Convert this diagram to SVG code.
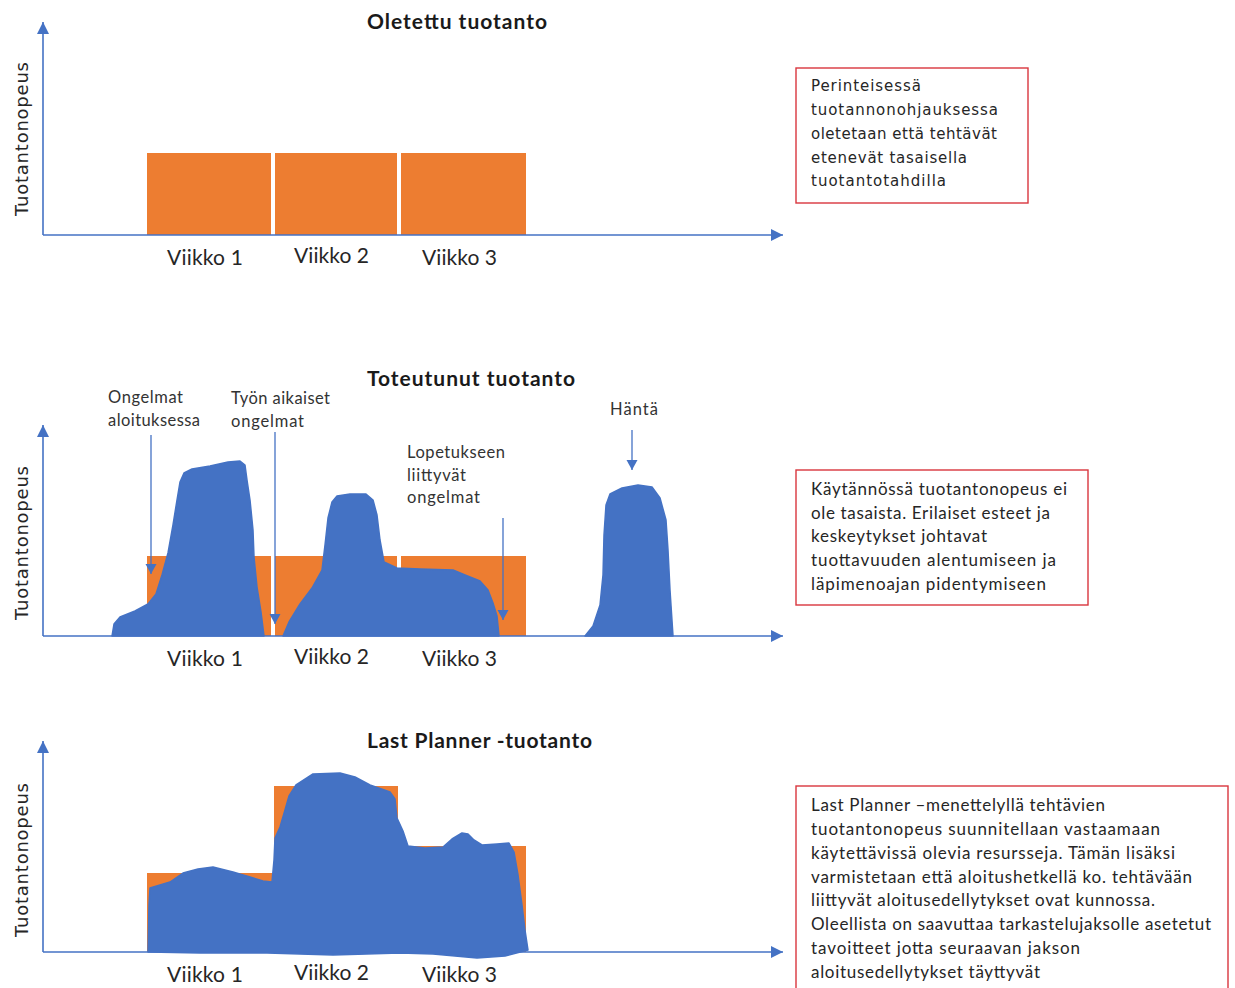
<svg xmlns="http://www.w3.org/2000/svg" width="1235" height="988" viewBox="0 0 1235 988">
  <defs>
    <style>
      .axis { stroke: #4472C4; stroke-width: 1.6; fill: none; }
      .ptr { stroke: #4472C4; stroke-width: 1.3; fill: none; }
      .bar { fill: #ED7D31; }
      .flow { fill: #4472C4; stroke: #4472C4; stroke-width: 1.5; stroke-linejoin: round; }
      .title { font-family: Lato, "Liberation Sans", sans-serif; font-weight: bold; font-size: 21px; fill: #1a1a1a; }
      .week { font-family: Lato, "Liberation Sans", sans-serif; font-size: 21px; fill: #262626; }
      .ylab { font-family: "DejaVu Sans", Verdana, sans-serif; font-size: 18px; fill: #262626; }
      .note { font-family: Lato, "Liberation Sans", sans-serif; font-size: 16.5px; fill: #333333; }
      .box { fill: #ffffff; stroke: #D9363E; stroke-width: 1.4; }
      .boxtxt { font-family: Lato, "Liberation Sans", sans-serif; font-size: 17px; fill: #262626; }
      .boxtxt-v { font-family: "DejaVu Sans", Verdana, sans-serif; font-size: 15px; fill: #262626; }
    </style>
    <marker id="axisHead" markerUnits="userSpaceOnUse" markerWidth="14" markerHeight="12" refX="12" refY="6" orient="auto">
      <path d="M0,0 L12,6 L0,12 Z" fill="#4472C4"/>
    </marker>
    <marker id="ptrHead" markerUnits="userSpaceOnUse" markerWidth="12" markerHeight="12" refX="10" refY="5.5" orient="auto">
      <path d="M0,0 L10,5.5 L0,11 Z" fill="#4472C4"/>
    </marker>
  </defs>

  <rect width="1235" height="988" fill="#ffffff"/>

  <!-- Panel 1: planned production -->
  <g id="panel-planned">
    <text class="title" x="367" y="29" textLength="180">Oletettu tuotanto</text>
    <text class="ylab" transform="translate(28,139) rotate(-90)" text-anchor="middle" textLength="154">Tuotantonopeus</text>
    <rect class="bar" x="147" y="153" width="124" height="82"/>
    <rect class="bar" x="275" y="153" width="122" height="82"/>
    <rect class="bar" x="401" y="153" width="125" height="82"/>
    <text class="week" x="167" y="265" textLength="76">Viikko 1</text>
    <text class="week" x="294" y="263" textLength="75">Viikko 2</text>
    <text class="week" x="422" y="265" textLength="75">Viikko 3</text>
  </g>

  <!-- Panel 2: realised production -->
  <g id="panel-realised">
    <text class="title" x="367" y="386" textLength="208">Toteutunut tuotanto</text>
    <text class="ylab" transform="translate(28,543) rotate(-90)" text-anchor="middle" textLength="154">Tuotantonopeus</text>
    <rect class="bar" x="147" y="556" width="124" height="80"/>
    <rect class="bar" x="275" y="556" width="122" height="80"/>
    <rect class="bar" x="401" y="556" width="125" height="80"/>
    <path class="flow" d="M112,636 L114,624 L120,617 L135,611 L148,604 L156,594 L162,575 L168,553 L173,525 L177,500 L180,482 L184,473 L192,469 L210,466 L228,462 L240,461 L245,465 L247,480 L250,500 L253,530 L254,557 L257,587 L261,612 L264,636 Z"/>
    <path class="flow" d="M283,636 L289,622 L300,604 L312,588 L322,570 L325,545 L328,518 L332,502 L337,496 L350,494 L366,494 L373,500 L377,515 L380,540 L384,562 L397,568 L420,569 L453,570 L465,575 L480,581 L488,590 L493,603 L497,616 L499,636 Z"/>
    <path class="flow" d="M585,636 L593,626 L600,605 L603,575 L604,535 L606,505 L610,494 L622,488 L638,485 L652,487 L660,498 L666,520 L668,550 L670,590 L673,636 Z"/>
    <text class="week" x="167" y="666" textLength="76">Viikko 1</text>
    <text class="week" x="294" y="664" textLength="75">Viikko 2</text>
    <text class="week" x="422" y="666" textLength="75">Viikko 3</text>
  </g>

  <!-- Panel 2 annotations -->
  <g id="note-start">
    <text class="note" x="108" y="403" textLength="75">Ongelmat</text>
    <text class="note" x="108" y="426" textLength="92">aloituksessa</text>
  </g>
  <g id="note-midwork">
    <text class="note" x="231" y="404" textLength="99">Työn aikaiset</text>
    <text class="note" x="231" y="427" textLength="73">ongelmat</text>
  </g>
  <g id="note-finish">
    <text class="note" x="407" y="458" textLength="98">Lopetukseen</text>
    <text class="note" x="407" y="481" textLength="59">liittyvät</text>
    <text class="note" x="407" y="503" textLength="73">ongelmat</text>
  </g>
  <g id="note-tail">
    <text class="note" x="610" y="415" textLength="48">Häntä</text>
  </g>

  <!-- Panel 3: Last Planner production -->
  <g id="panel-lastplanner">
    <text class="title" x="367" y="748" textLength="225">Last Planner -tuotanto</text>
    <text class="ylab" transform="translate(28,860) rotate(-90)" text-anchor="middle" textLength="154">Tuotantonopeus</text>
    <rect class="bar" x="147" y="873" width="125" height="79"/>
    <rect class="bar" x="274" y="786" width="124" height="166"/>
    <rect class="bar" x="398" y="846" width="128" height="106"/>
    <path class="flow" d="M148,952 L149,905 L150,888 L160,885 L170,882 L183,873 L198,869 L213,867 L233,872 L250,877 L263,881 L272,882 L274,860 L275,838 L280,827 L285,810 L289,796 L296,785 L313,774 L340,773 L355,777 L370,785 L390,792 L395,799 L397,818 L403,831 L408,846 L425,848 L443,847 L452,839 L462,833 L468,834 L474,840 L482,845 L497,844 L509,843 L514,852 L518,875 L522,905 L525,930 L528,950 L505,956 L477,958 L455,956 L433,954 L400,953 L333,955 L300,954 L267,953 L200,953 Z"/>
    <text class="week" x="167" y="982" textLength="76">Viikko 1</text>
    <text class="week" x="294" y="980" textLength="75">Viikko 2</text>
    <text class="week" x="422" y="982" textLength="75">Viikko 3</text>
  </g>

  <!-- Explanation boxes -->
  <g id="box-planned">
    <rect class="box" x="796" y="68" width="232" height="135"/>
    <text class="boxtxt-v" x="811" y="91" textLength="110">Perinteisessä</text>
    <text class="boxtxt-v" x="811" y="115" textLength="187">tuotannonohjauksessa</text>
    <text class="boxtxt-v" x="811" y="139" textLength="186">oletetaan että tehtävät</text>
    <text class="boxtxt-v" x="811" y="163" textLength="156">etenevät tasaisella</text>
    <text class="boxtxt-v" x="811" y="186" textLength="135">tuotantotahdilla</text>
  </g>
  <g id="box-realised">
    <rect class="box" x="796" y="470" width="292" height="135"/>
    <text class="boxtxt" x="811" y="495" textLength="256">Käytännössä tuotantonopeus ei</text>
    <text class="boxtxt" x="811" y="519" textLength="239">ole tasaista. Erilaiset esteet ja</text>
    <text class="boxtxt" x="811" y="542" textLength="176">keskeytykset johtavat</text>
    <text class="boxtxt" x="811" y="566" textLength="245">tuottavuuden alentumiseen ja</text>
    <text class="boxtxt" x="811" y="590" textLength="235">läpimenoajan pidentymiseen</text>
  </g>
  <g id="box-lastplanner">
    <rect class="box" x="796" y="786" width="432" height="210"/>
    <text class="boxtxt" x="811" y="811" textLength="294">Last Planner –menettelyllä tehtävien</text>
    <text class="boxtxt" x="811" y="835" textLength="349">tuotantonopeus  suunnitellaan vastaamaan</text>
    <text class="boxtxt" x="811" y="859" textLength="364">käytettävissä olevia resursseja. Tämän lisäksi</text>
    <text class="boxtxt" x="811" y="883" textLength="381">varmistetaan että aloitushetkellä ko. tehtävään</text>
    <text class="boxtxt" x="811" y="906" textLength="344">liittyvät aloitusedellytykset ovat kunnossa.</text>
    <text class="boxtxt" x="811" y="930" textLength="400">Oleellista on saavuttaa tarkastelujaksolle asetetut</text>
    <text class="boxtxt" x="811" y="954" textLength="269">tavoitteet  jotta seuraavan jakson</text>
    <text class="boxtxt" x="811" y="978" textLength="229">aloitusedellytykset täyttyvät</text>
  </g>

  <!-- Axes and pointer arrows -->
  <g id="connectors">
    <line class="axis" x1="43" y1="235" x2="43" y2="22" marker-end="url(#axisHead)"/>
    <line class="axis" x1="43" y1="235" x2="783" y2="235" marker-end="url(#axisHead)"/>
    <line class="axis" x1="43" y1="636" x2="43" y2="425" marker-end="url(#axisHead)"/>
    <line class="axis" x1="43" y1="636" x2="783" y2="636" marker-end="url(#axisHead)"/>
    <line class="axis" x1="43" y1="952" x2="43" y2="741" marker-end="url(#axisHead)"/>
    <line class="axis" x1="43" y1="952" x2="783" y2="952" marker-end="url(#axisHead)"/>
    <line class="ptr" x1="151" y1="435" x2="151" y2="574" marker-end="url(#ptrHead)"/>
    <line class="ptr" x1="275" y1="432" x2="275" y2="624" marker-end="url(#ptrHead)"/>
    <line class="ptr" x1="503" y1="518" x2="503" y2="620" marker-end="url(#ptrHead)"/>
    <line class="ptr" x1="632" y1="430" x2="632" y2="470" marker-end="url(#ptrHead)"/>
  </g>
</svg>
